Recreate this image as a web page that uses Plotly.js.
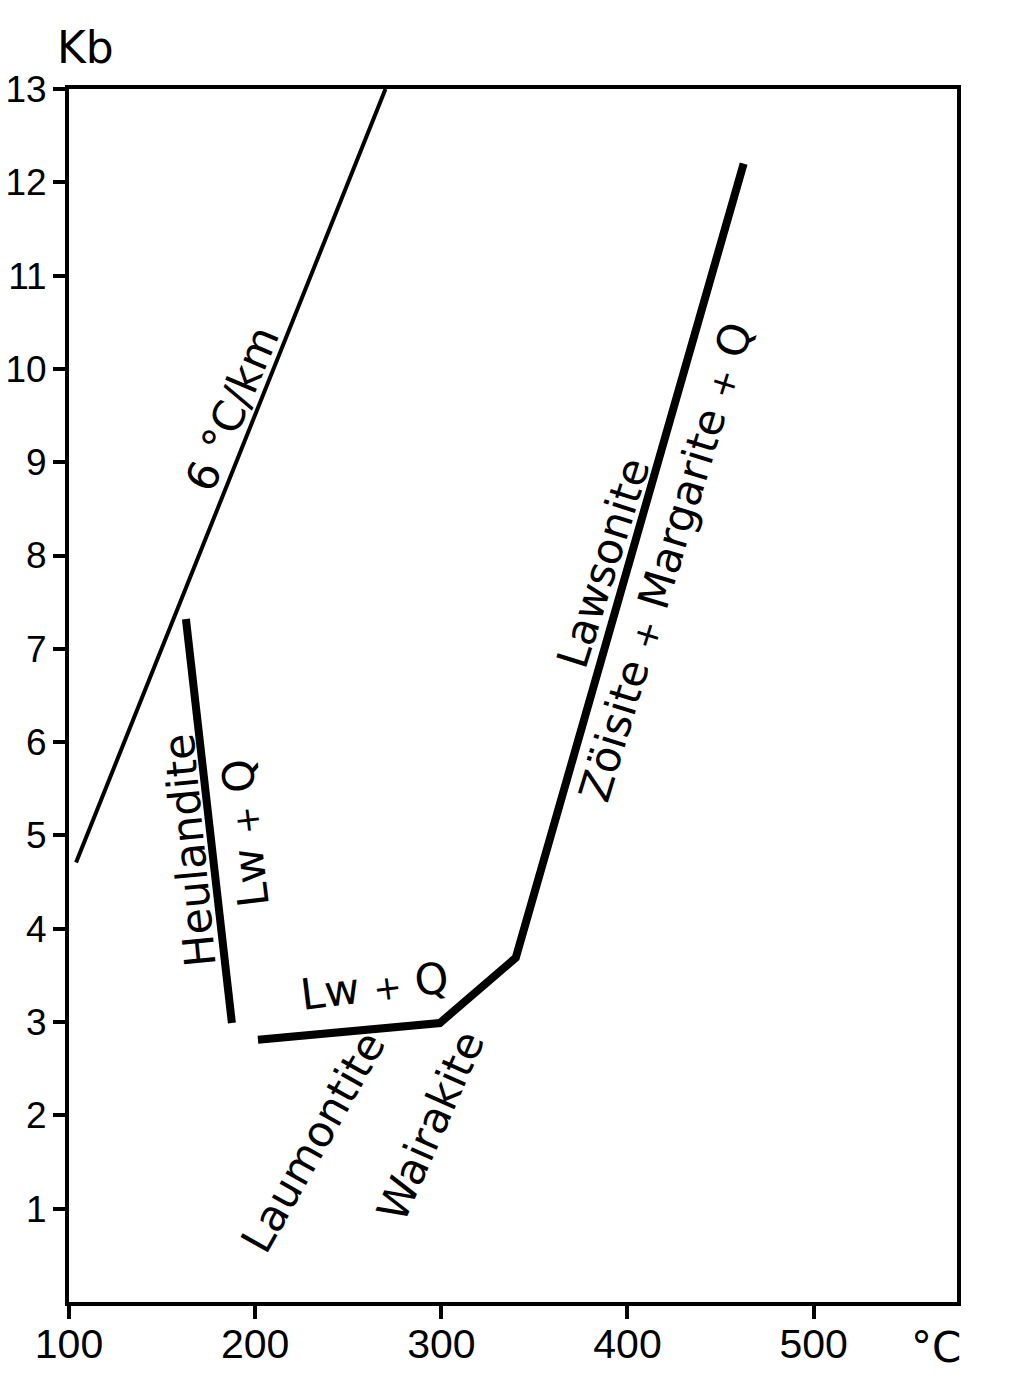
<!DOCTYPE html>
<html>
<head>
<meta charset="utf-8">
<script src="https://cdn.plot.ly/plotly-3.0.1.min.js"></script>
<style>html,body{margin:0;padding:0;background:#fff;}#chart{width:1016px;height:1375px;}</style>
</head>
<body>
<div id="chart"></div>
<script>
// Temperature (°C) / pressure (Kb) points
var geothermT = [103.8, 270];
var geothermP = [4.71, 13];
var heulT = [162.8, 187.5];
var heulP = [7.32, 2.99];
var reactionT = [201.5, 299.2, 340, 462.4];
var reactionP = [2.81, 2.99, 3.69, 12.2];

var xTickVals = [100, 200, 300, 400, 500];
var xTickText = ['100', '200', '300', '400', '500'];
var yTickVals = [1,2,3,4,5,6,7,8,9,10,11,12,13];
var yTickText = ['1','2','3','4','5','6','7','8','9','10','11','12','13'];

// Labels: text, T, P, angle
var plusSpan = '<span style="font-size:34px">+</span>';
var labelText = ['6 °C/km', 'Heulandite', 'Lw ' + plusSpan + ' Q', 'Lw ' + plusSpan + ' Q',
                 'Laumontite', 'Wairakite', 'Lawsonite', 'Zöisite ' + plusSpan + ' Margarite ' + plusSpan + ' Q'];
var labelT = [187.8, 165, 194.5, 264.3, 231, 294.1, 387, 420.5];
var labelP = [9.58, 4.84, 5.03, 3.39, 1.72, 1.89, 7.92, 7.93];
var labelAngle = [-67, -95.5, -96.8, -7, -60.5, -66.2, -72.5, -73];

var xTickFont = {family: '"Liberation Sans", Arial, sans-serif', size: 41, color: '#000'};
var yTickFont = {family: '"Liberation Sans", Arial, sans-serif', size: 37, color: '#000'};
var labelFont = {family: '"DejaVu Sans", sans-serif', size: 43, color: '#000'};

var traces = [
  {x: geothermT, y: geothermP, mode: 'lines', line: {color: '#000', width: 4}, hoverinfo: 'skip'},
  {x: heulT, y: heulP, mode: 'lines', line: {color: '#000', width: 8}, hoverinfo: 'skip'},
  {x: reactionT, y: reactionP, mode: 'lines', line: {color: '#000', width: 8}, hoverinfo: 'skip'}
];

var annotations = labelText.map(function(t, i) {
  return {x: labelT[i], y: labelP[i], xref: 'x', yref: 'y', text: t, showarrow: false,
          textangle: labelAngle[i], xanchor: 'center', yanchor: 'middle', font: labelFont};
});
annotations.push({xref: 'paper', yref: 'paper', x: 0.0191, y: 1.0346, text: 'Kb', showarrow: false,
                  xanchor: 'center', yanchor: 'middle', font: {family: '"DejaVu Sans", sans-serif', size: 44, color: '#000'}});
annotations.push({xref: 'paper', yref: 'paper', x: 0.976, y: -0.0371, text: '°C', showarrow: false,
                  xanchor: 'center', yanchor: 'middle', font: {family: '"DejaVu Sans", sans-serif', size: 42, color: '#000'}});

var layout = {
  width: 1016, height: 1375,
  margin: {l: 69, r: 59, t: 89, b: 73},
  paper_bgcolor: '#fff', plot_bgcolor: '#fff',
  showlegend: false,
  xaxis: {range: [100, 577], showgrid: false, zeroline: false, showline: true, mirror: true,
          linecolor: '#000', linewidth: 4, ticks: 'outside', ticklen: 13, tickwidth: 4, tickcolor: '#000',
          tickvals: xTickVals, ticktext: xTickText, tickfont: xTickFont, ticklabelstandoff: -10},
  yaxis: {range: [0, 13], showgrid: false, zeroline: false, showline: true, mirror: true,
          linecolor: '#000', linewidth: 4, ticks: 'outside', ticklen: 12, tickwidth: 4, tickcolor: '#000',
          tickvals: yTickVals, ticktext: yTickText, tickfont: yTickFont, ticklabelstandoff: -1},
  annotations: annotations
};

Plotly.newPlot('chart', traces, layout, {staticPlot: true});
</script>
</body>
</html>
